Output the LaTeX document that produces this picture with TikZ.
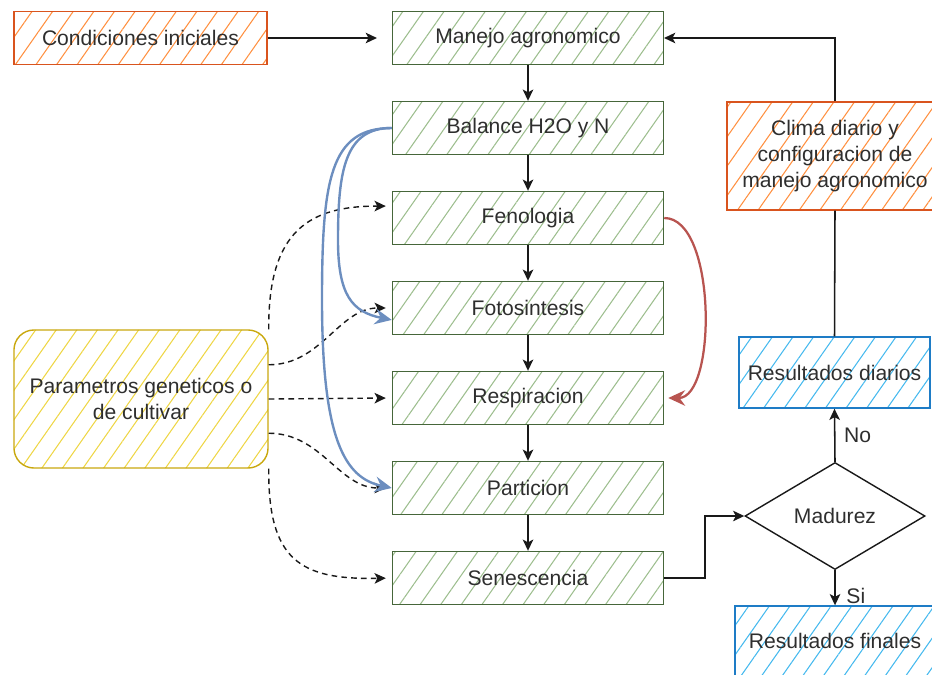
\documentclass[tikz,border=0pt]{standalone}
\usepackage{fontspec}
\setmainfont{Liberation Sans}
\usetikzlibrary{arrows.meta,patterns.meta,shapes.geometric}

\definecolor{verdeborde}{HTML}{46663A}
\definecolor{verdetrama}{HTML}{9DBE8E}
\definecolor{naranjaborde}{HTML}{D9541E}
\definecolor{naranjatrama}{HTML}{FF9040}
\definecolor{amarilloborde}{HTML}{C9A80E}
\definecolor{amarillotrama}{HTML}{EED645}
\definecolor{azulborde}{HTML}{1E7CC6}
\definecolor{azultrama}{HTML}{45B9EE}
\definecolor{azulcurva}{HTML}{6C8EBF}
\definecolor{rojocurva}{HTML}{B85450}
\definecolor{texto}{HTML}{2E2E2E}

\tikzset{
  trama/.style={pattern={Lines[angle=55,distance=12pt,line width=0.75pt]}},
  caja/.style={draw=verdeborde, line width=1pt, trama, pattern color=verdetrama,
    minimum width=6.775cm, minimum height=1.325cm, inner sep=0pt,
    text=texto, font=\fontsize{15}{18.8}\selectfont, align=center},
  cajanaranja/.style={caja, draw=naranjaborde, pattern color=naranjatrama},
  cajaazul/.style={caja, draw=azulborde, pattern color=azultrama},
  cajaamarilla/.style={caja, draw=amarilloborde, pattern color=amarillotrama, rounded corners=0.5cm},
  decision/.style={draw=black!90, line width=1pt, shape=diamond, minimum width=4.5cm,
    minimum height=2.675cm, inner sep=0pt, text=texto, font=\fontsize{15}{18.8}\selectfont},
  flecha/.style={draw=black!90, line width=1.1pt, -{Stealth[length=8pt,width=7.5pt,inset=2pt]}},
  punteada/.style={flecha, dashed, line width=1pt, dash pattern=on 4pt off 3pt},
  curvaazul/.style={draw=azulcurva, line width=1.7pt, -{Stealth[length=12pt,width=11pt,inset=4pt]}},
  curvaroja/.style={draw=rojocurva, line width=1.6pt, -{Stealth[length=12pt,width=11pt,inset=4pt]}},
  etiqueta/.style={text=texto, font=\fontsize{15}{18.8}\selectfont}
}

\begin{document}
\begin{tikzpicture}[x=0.025cm,y=-0.025cm]
        \useasboundingbox (0,0) rectangle (932,675);
        \clip (0,0) rectangle (932,675);

        % Columna central
        \node[caja] (manejo) at (528,38) {Manejo agronomico};
        \node[caja] (balance) at (528,128) {Balance H2O y N};
        \node[caja] (fenologia) at (528,218) {Fenologia};
        \node[caja] (fotosintesis) at (528,308) {Fotosintesis};
        \node[caja] (respiracion) at (528,398) {Respiracion};
        \node[caja] (particion) at (528,488) {Particion};
        \node[caja] (senescencia) at (528,578) {Senescencia};

        % Entradas
        \node[cajanaranja, minimum width=6.325cm] (condiciones) at (140.5,38) {Condiciones iniciales};
        \node[cajaamarilla, minimum width=6.35cm, minimum height=3.45cm] (parametros) at (141,399)
            {Parametros geneticos o\\de cultivar};
        \node[cajanaranja, minimum width=5.4cm, minimum height=2.7cm] (clima) at (835,156)
            {Clima diario y\\configuracion de\\manejo agronomico};

        % Salidas
        \node[cajaazul, minimum width=4.775cm, minimum height=1.775cm] (diarios) at (834.5,372.5) {Resultados diarios};
        \node[decision] (madurez) at (835,516) {Madurez};
        \node[cajaazul, minimum width=5cm, minimum height=1.75cm] (finales) at (835,641) {Resultados finales};

        % Flujo principal
        \draw[flecha, shorten >=0.375cm] (condiciones) -- (manejo);
        \draw[flecha] (manejo) -- (balance);
        \draw[flecha] (balance) -- (fenologia);
        \draw[flecha] (fenologia) -- (fotosintesis);
        \draw[flecha] (fotosintesis) -- (respiracion);
        \draw[flecha] (respiracion) -- (particion);
        \draw[flecha] (particion) -- (senescencia);
        \draw[flecha] (senescencia.east) -- ++(41,0) |- (madurez.west);
        \draw[flecha] (madurez.north) -- node[etiqueta, right, xshift=0.1cm] {No} (diarios.south);
        \draw[flecha] (madurez.south) -- node[etiqueta, pos=0.72, right, xshift=0.15cm] {Si} (finales.north);
        \draw[draw=black!90, line width=1.1pt] (diarios.north) -- (clima.south);
        \draw[flecha] (clima.north) |- (manejo.east);

        % Parametros geneticos
        \draw[punteada, shorten >=0.15cm] (parametros.north east) .. controls (268,230) and (310,206) .. (fenologia.175);
        \draw[punteada, shorten >=0.15cm] (parametros.15) to[out=0,in=180] (fotosintesis.west);
        \draw[punteada, shorten >=0.15cm] (parametros.east) -- (respiracion.west);
        \draw[punteada, shorten >=0.15cm] (parametros.-15) to[out=0,in=180] (particion.west);
        \draw[punteada, shorten >=0.15cm] (parametros.south east) .. controls (268,560) and (300,580) .. (senescencia.west);

        % Curvas de agua y nitrogeno
        \draw[curvaazul] (balance.west) .. controls (345,128) and (338,170) .. (338,240)
            .. controls (338,295) and (352,312) .. (fotosintesis.185);
        \draw[curvaazul] (balance.west) .. controls (330,128) and (322,180) .. (322,300)
            .. controls (322,440) and (345,478) .. (particion.west);

        % Fenologia a respiracion
        \draw[curvaroja, shorten >=0.1cm] (fenologia.east) to[out=0,in=0,looseness=0.75] (respiracion.east);
    \end{tikzpicture}
\end{document}
